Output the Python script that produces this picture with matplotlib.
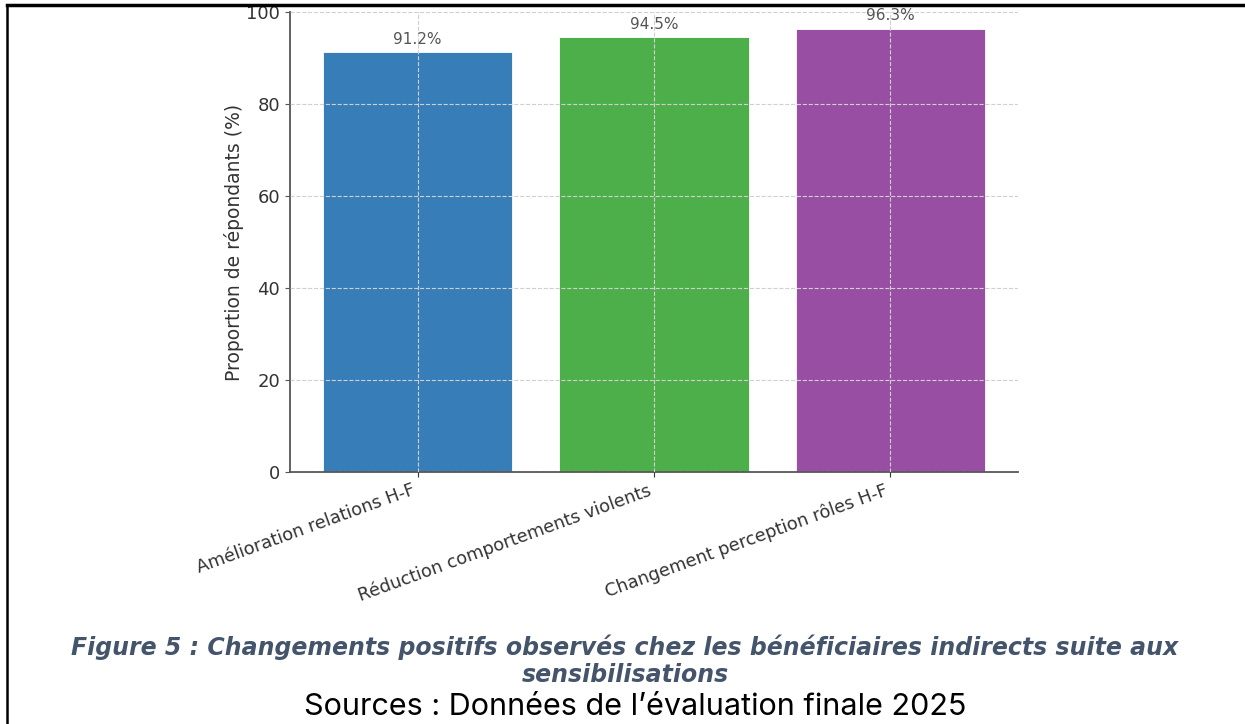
import matplotlib.pyplot as plt
from matplotlib.lines import Line2D

# données
categories = ["Amélioration relations H-F", "Réduction comportements violents",
              "Changement perception rôles H-F"]
valeurs = [91.2, 94.5, 96.3]
couleurs = ["#377eb8", "#4daf4a", "#984ea3"]
yticks = [0, 20, 40, 60, 80, 100]

titre_l1 = "Figure 5 : Changements positifs observés chez les bénéficiaires indirects suite aux"
titre_l2 = "sensibilisations"
source = "Sources : Données de l’évaluation finale 2025"

W, H = 1245, 724
fig = plt.figure(figsize=(W / 100, H / 100), dpi=100)
ax = fig.add_axes([290 / W, 1 - 472 / H, (1018 - 290) / W, (472 - 12) / H])

x = range(len(categories))
bars = ax.bar(x, valeurs, width=0.8, color=couleurs, edgecolor="white", linewidth=0.6)
for b, v in zip(bars, valeurs):
    ax.text(b.get_x() + b.get_width() / 2, v + 1.2, f"{v}%", ha="center", va="bottom",
            fontsize=11, color="#555555")

ax.set_ylim(0, 100)
ax.set_yticks(yticks)
ax.set_xticks(list(x))
ax.set_xticklabels(categories, rotation=20, ha="right", fontsize=12.8, color="#333333")
ax.tick_params(axis="y", labelsize=13, labelcolor="#333333", color="#555555")
ax.tick_params(axis="x", color="#333333", pad=3)
ax.set_ylabel("Proportion de répondants (%)", fontsize=13.5, color="#333333", labelpad=2)
ax.grid(True, linestyle="--", color="#d0d0d0", linewidth=0.8)
ax.set_axisbelow(False)
for s in ["top", "right"]:
    ax.spines[s].set_visible(False)
for s in ["left", "bottom"]:
    ax.spines[s].set_color("#555555")
    ax.spines[s].set_linewidth(1.3)

fig.text(625 / W, 1 - 647 / H, titre_l1, ha="center", va="center", fontsize=17,
         family="DejaVu Sans", weight="bold", style="italic", color="#44546a")
fig.text(625 / W, 1 - 675 / H, titre_l2, ha="center", va="center", fontsize=17,
         family="DejaVu Sans", weight="bold", style="italic", color="#44546a")
fig.text(635 / W, 1 - 707 / H, source, ha="center", va="center", fontsize=22,
         family="Inter", color="black")

# cadre de la page
fig.add_artist(Line2D([7 / W, 1], [1 - 5 / H, 1 - 5 / H], transform=fig.transFigure,
                      color="black", linewidth=2.5))
fig.add_artist(Line2D([7 / W, 7 / W], [0, 1 - 5 / H], transform=fig.transFigure,
                      color="black", linewidth=1.8))

fig.savefig("out.png", dpi=100)
